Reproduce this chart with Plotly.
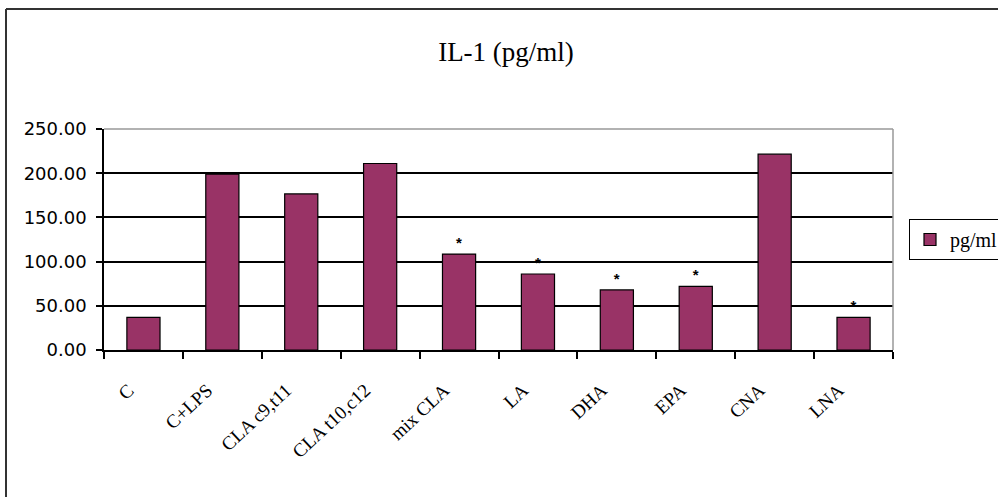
import plotly.graph_objects as go

categories = ["C", "C+LPS", "CLA c9,t11", "CLA t10,c12", "mix CLA", "LA", "DHA", "EPA", "CNA", "LNA"]
values = [37, 199, 176.5, 211, 108.5, 86, 68, 72, 221.5, 37]
significance = ["", "", "", "", "*", "*", "*", "*", "", "*"]
series_name = "pg/ml"
y_ticks = [0, 50, 100, 150, 200, 250]

W, H = 998, 497
ml, mr, mt, mb = 104, 105, 129, 147
pw, ph = W - ml - mr, H - mt - mb

def px_x(px):
    return (px - ml) / pw

def px_y(py):
    return (H - mb - py) / ph

fig = go.Figure()
fig.add_trace(go.Bar(
    x=categories, y=values, name=series_name,
    marker=dict(color="#993366", line=dict(color="#000000", width=1.2)),
    text=significance, textposition="outside", cliponaxis=False,
    textfont=dict(family="Liberation Sans", size=15, color="#000000", weight="bold"),
    showlegend=True,
))

fig.update_layout(
    width=W, height=H,
    margin=dict(l=ml, r=mr, t=mt, b=mb, autoexpand=False),
    paper_bgcolor="white", plot_bgcolor="white",
    bargap=0.58,
    title=dict(text="IL-1 (pg/ml)", x=506 / W, xanchor="center", y=1 - 52 / H, yanchor="middle",
               font=dict(family="Liberation Serif", size=27, color="#000000")),
    showlegend=True,
    legend=dict(x=px_x(909), xanchor="left", y=0.5, yanchor="middle",
                bgcolor="white", bordercolor="#000000", borderwidth=1,
                font=dict(family="Liberation Serif", size=20, color="#000000"),
                itemwidth=30),
    xaxis=dict(
        showline=True, linecolor="#000000", linewidth=1.5,
        ticks="outside", tickson="boundaries", ticklen=7, tickcolor="#000000", tickwidth=1.5,
        tickangle=-43, ticklabelstandoff=20, ticklabelshift=-15,
        tickfont=dict(family="Liberation Serif", size=19, color="#000000"),
        showgrid=False,
    ),
    yaxis=dict(
        range=[0, 250], tickvals=y_ticks, ticktext=[f"{v:.2f}" for v in y_ticks],
        showline=True, linecolor="#000000", linewidth=1.5,
        ticks="outside", ticklen=6, tickcolor="#000000", tickwidth=1.5,
        ticklabelstandoff=6,
        showgrid=True, gridcolor="#000000", gridwidth=1.5,
        zeroline=False,
        tickfont=dict(family="DejaVu Sans", size=18, color="#000000"),
    ),
    shapes=[
        dict(type="line", xref="paper", yref="paper", x0=0, x1=1, y0=1, y1=1,
             line=dict(color="#999999", width=1.5), layer="above"),
        dict(type="line", xref="paper", yref="paper", x0=1, x1=1, y0=0, y1=1,
             line=dict(color="#999999", width=1.5), layer="above"),
        dict(type="line", xref="paper", yref="paper", x0=px_x(6), x1=px_x(6), y0=px_y(9), y1=px_y(520),
             line=dict(color="#333333", width=2)),
        dict(type="line", xref="paper", yref="paper", x0=px_x(6), x1=px_x(1010), y0=px_y(9), y1=px_y(9),
             line=dict(color="#333333", width=2)),
    ],
)

fig.write_html("out.html", config={"displayModeBar": False},
               post_script="document.body.style.margin='0';document.body.style.padding='0';")
